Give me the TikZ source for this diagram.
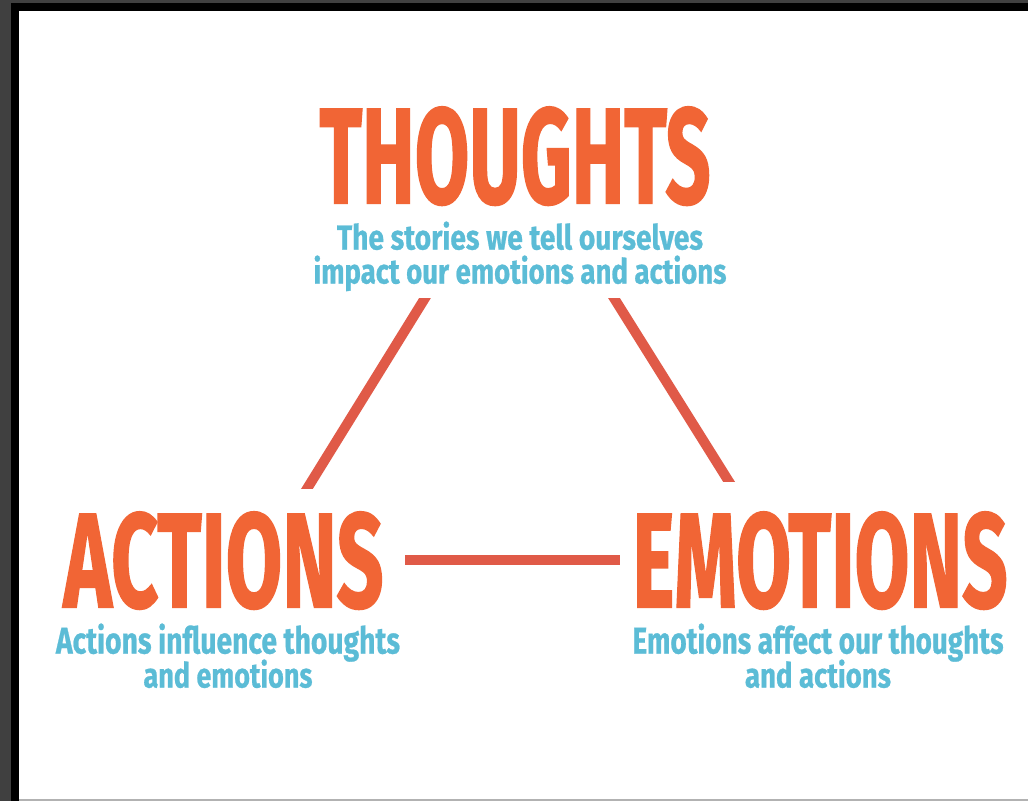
\documentclass[tikz,border=0pt]{standalone}
\usepackage{fontspec}
\usepackage{graphicx}
\newfontfamily\headfont{Fira Sans}[FakeBold=1.5]
\newfontfamily\notefont{Fira Sans}[FakeBold=0.8]
\newlength\pxunit
\setlength\pxunit{0.75pt}
\setlength\lineskiplimit{-100pt}
\newcommand{\fitline}[3]{\resizebox{#1\pxunit}{#2\pxunit}{#3}}
\definecolor{headorange}{RGB}{241,101,53}
\definecolor{noteblue}{RGB}{91,188,214}
\definecolor{linkred}{RGB}{224,90,72}
\definecolor{framegray}{RGB}{64,64,64}
\tikzset{every picture/.style={line width=0.75pt}}
\tikzset{
  head/.style={text=headorange, font=\headfont\bfseries, inner sep=0pt, anchor=base west},
  note/.style={text=noteblue, align=center, inner sep=0pt, anchor=north,
    font=\notefont\bfseries\fontsize{10}{25.5}\selectfont},
  link/.style={draw=linkred, line width=7.5pt}
}

\begin{document}
\begin{tikzpicture}[x=0.75pt,y=0.75pt,yscale=-1,xscale=1]
%set diagram left start at 0, and has height of 801
\useasboundingbox (0,0) rectangle (1028,801);

%Frame
\fill [framegray] (0,0) rectangle (1028,801);
\fill [black] (11,3) rectangle (1028,801);
\fill [white] (19,11) rectangle (1028,799);
\fill [gray!60] (19,799) rectangle (1028,801);

% Text Nodes
\node [head] (thoughts) at (319,203) {\fitline{391}{96}{THOUGHTS}};
\node [note] (thoughtsnote) at (520,221) {\fitline{366}{28}{The stories we tell ourselves}\\
  \fitline{413}{28}{impact our emotions and actions}};

\node [head] (actions) at (63,607) {\fitline{320}{95}{ACTIONS}};
\node [note] (actionsnote) at (228,623) {\fitline{344}{30}{Actions influence thoughts}\\
  \fitline{169}{28}{and emotions}};

\node [head] (emotions) at (632,607) {\fitline{375}{95}{EMOTIONS}};
\node [note] (emotionsnote) at (818,623) {\fitline{371}{30}{Emotions affect our thoughts}\\
  \fitline{146}{28}{and actions}};

%Straight Lines
\coordinate (ta) at (431.2,288);
\coordinate (at) at (301.3,498);
\coordinate (te) at (607.7,288);
\coordinate (et) at (734.8,491);
\coordinate (ae) at (405,560);
\coordinate (ea) at (620,560);

\begin{scope}
\clip (0,298) rectangle (1028,488);
\draw [link] (ta) -- (at);
\end{scope}
\begin{scope}
\clip (0,298) rectangle (1028,481);
\draw [link] (te) -- (et);
\end{scope}
\draw [link] (ae) -- (ea);

\end{tikzpicture}
\end{document}
